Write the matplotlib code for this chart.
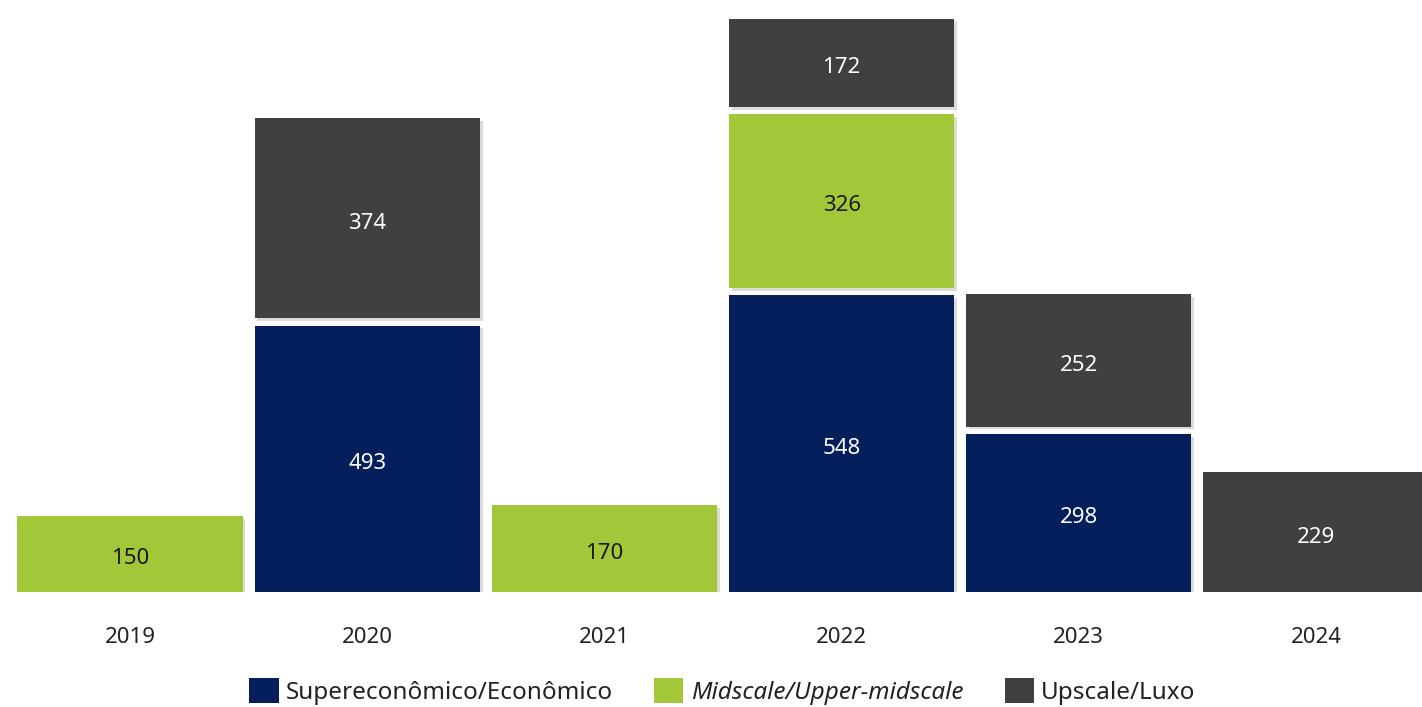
import matplotlib.pyplot as plt
import matplotlib.patheffects as pe
from matplotlib.patches import Patch
import numpy as np

plt.rcParams['font.family'] = ['Noto Sans', 'DejaVu Sans']

anos = ['2019', '2020', '2021', '2022', '2023', '2024']
economico = [0, 493, 0, 548, 298, 0]
midscale = [150, 0, 170, 326, 0, 0]
upscale = [0, 374, 0, 172, 252, 229]

series = [
    ('Supereconômico/Econômico', economico, '#041f5c', 'white'),
    ('Midscale/Upper-midscale', midscale, '#a2c839', '#1a1a1a'),
    ('Upscale/Luxo', upscale, '#404040', 'white'),
]

fig = plt.figure(figsize=(14.22, 7.07), dpi=100)
ax = fig.add_axes([0, 115 / 707, 1, 592 / 707])

x = np.arange(len(anos))
gap = 13  # espaço entre segmentos
sombra = [pe.SimplePatchShadow(offset=(2, -2), shadow_rgbFace='#999999', alpha=0.35), pe.Normal()]

base = np.zeros(len(anos))
for nome, vals, cor, cor_txt in series:
    vals = np.array(vals, dtype=float)
    for i, v in enumerate(vals):
        if v <= 0:
            continue
        b = ax.bar(x[i], v - gap, bottom=base[i], width=0.95, color=cor, zorder=2)
        b[0].set_path_effects(sombra)
        ax.text(x[i], base[i] + (v - gap) / 2 - 9, f'{int(v)}', ha='center', va='center',
                color=cor_txt, fontsize=16, fontweight='light', zorder=3)
    base += vals

ax.set_xlim(-130 / 237.2, (1422 - 130) / 237.2)
ax.set_ylim(0, 592 / 0.555)
ax.set_xticks(x)
ax.set_xticklabels(anos, fontsize=16, color='#222222', fontweight='light')
ax.tick_params(axis='x', length=0, pad=25)
ax.set_yticks([])
for s in ax.spines.values():
    s.set_visible(False)

handles = [Patch(facecolor=c, edgecolor='none') for _, _, c, _ in series]
leg = fig.legend(handles, [n for n, _, _, _ in series], loc='center', bbox_to_anchor=(0.508, 0.022),
                 ncol=3, frameon=False, fontsize=17.5, handlelength=1.2, handleheight=1.2,
                 handletextpad=0.3, columnspacing=1.7, prop={'weight': 'light', 'size': 17.5})
leg.get_texts()[1].set_style('italic')
for t in leg.get_texts():
    t.set_color('#222222')

fig.savefig('out.png', dpi=100)
